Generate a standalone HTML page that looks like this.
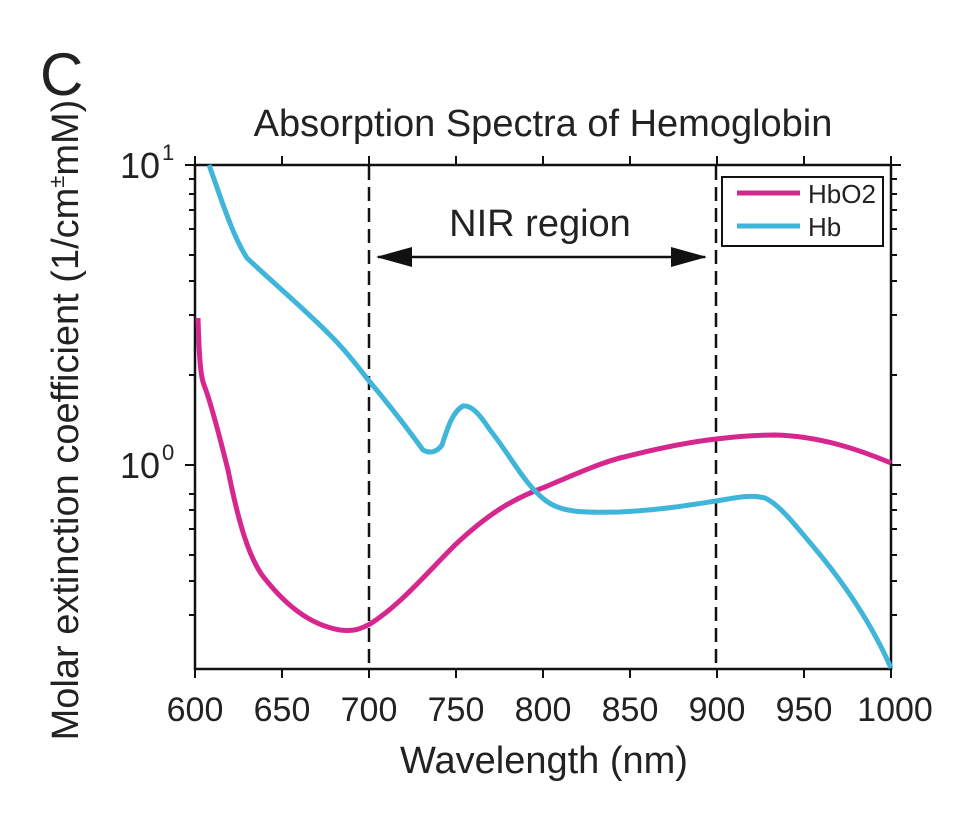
<!DOCTYPE html>
<html><head><style>body{margin:0;background:#fff}</style></head><body>
<svg width="974" height="830" xmlns="http://www.w3.org/2000/svg" font-family="Liberation Sans, sans-serif" fill="#222">
<text x="40" y="95" font-size="60">C</text>
<text x="543" y="136" font-size="38" text-anchor="middle">Absorption Spectra of Hemoglobin</text>
<g stroke="#111" stroke-width="2.5" fill="none">
<rect x="195" y="165" width="696" height="504"/>
</g>
<g stroke="#111" stroke-width="2">
<path d="M195 669v9M282 669v9M369 669v9M456 669v9M543 669v9M630 669v9M717 669v9M804 669v9M891 669v9M195 165v-9M282 165v-9M369 165v-9M456 165v-9M543 165v-9M630 165v-9M717 165v-9M804 165v-9M891 165v-9"/>
<path d="M195 165h-10M195 465h-10M891 165h10M891 465h10"/>
<path d="M195 179h-6M195 194h-6M195 210h-6M195 229h-6M195 255h-6M195 281h-6M195 315h-6M195 375h-6 M195 494h-6M195 510h-6M195 529h-6M195 555h-6M195 581h-6M195 615h-6 M891 179h6M891 194h6M891 210h6M891 229h6M891 255h6M891 281h6M891 315h6M891 375h6M891 494h6M891 510h6M891 529h6M891 555h6M891 581h6M891 615h6"/>
</g>
<g stroke="#111" stroke-width="2.5" stroke-dasharray="14,7">
<path d="M369 166V669M716 166V669"/>
</g>
<path d="M378 257H705" stroke="#111" stroke-width="2.5"/>
<path d="M376 257l36-10v20z M707 257l-36-10v20z" fill="#111"/>
<text x="540" y="236" font-size="38" text-anchor="middle">NIR region</text>
<path d="M198 318 C199 350,200 375,204 385 C210 400,218 430,228 470 C238 520,248 555,262 575 C285 605,310 625,340 630 C355 632,362 628,370 624 C400 605,425 575,455 545 C490 512,515 498,545 487 C580 472,605 461,628 456 C660 448,690 442,716 439 C740 436,760 435,775 435 C820 436,860 450,891 463" fill="none" stroke="#d6278f" stroke-width="5"/>
<path d="M209 165 C220 195,232 235,247 258 C270 280,300 305,330 335 C350 355,360 370,370 382 C385 400,405 425,423 450 C430 454,437 452,442 445 C447 430,452 412,463 406 C472 405,480 415,490 430 C510 455,525 485,545 500 C560 512,580 513,620 512 C660 510,690 505,716 501 C735 498,750 494,765 498 C780 505,795 525,812 545 C840 578,870 620,891 668" fill="none" stroke="#3fb5da" stroke-width="5"/>
<rect x="722" y="177" width="161" height="69" fill="#fff" stroke="#111" stroke-width="2"/>
<path d="M737 193h63" stroke="#d6278f" stroke-width="5"/>
<path d="M737 226h63" stroke="#3fb5da" stroke-width="5"/>
<text x="808" y="203" font-size="26">HbO2</text>
<text x="808" y="236" font-size="26">Hb</text>
<g font-size="34" text-anchor="middle">
<text x="195" y="721">600</text><text x="282" y="721">650</text><text x="369" y="721">700</text><text x="456" y="721">750</text><text x="543" y="721">800</text><text x="630" y="721">850</text><text x="717" y="721">900</text><text x="804" y="721">950</text><text x="895" y="721">1000</text>
</g>
<text x="544" y="773" font-size="38" text-anchor="middle">Wavelength (nm)</text>
<text x="120" y="178" font-size="36">10</text><text x="162" y="160" font-size="22">1</text>
<text x="120" y="478" font-size="36">10</text><text x="162" y="460" font-size="22">0</text>
<text transform="translate(78,420) rotate(-90)" font-size="38" text-anchor="middle">Molar extinction coefficient (1/cm<tspan font-size="22" dy="-14">±</tspan><tspan dy="14">mM)</tspan></text>
</svg>
</body></html>
